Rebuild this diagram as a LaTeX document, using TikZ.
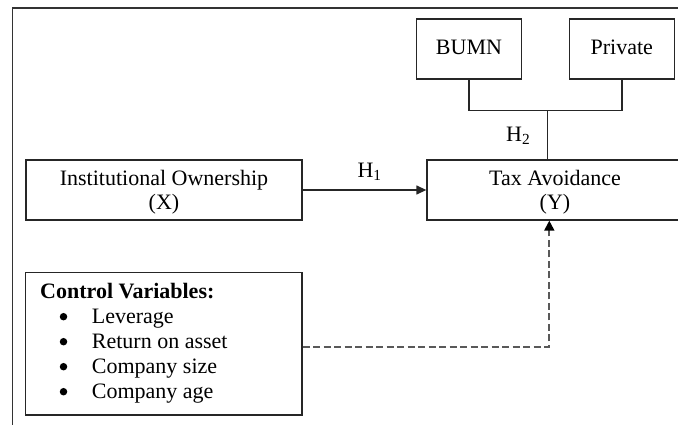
\documentclass[tikz,border=0pt]{standalone}
\usepackage{fontspec}
\setmainfont{Liberation Serif}
\usetikzlibrary{arrows.meta}
\begin{document}
\begin{tikzpicture}[x=1pt,y=-1pt,
  every node/.style={font=\fontsize{22}{22}\selectfont, inner sep=0pt},
  box/.style={draw=black!85, line width=1.3pt},
  txt/.style={anchor=base},
  bul/.style={circle, fill=black, minimum size=7.5pt},
  conn/.style={draw=black!85, line width=1.3pt},
  arr/.style={-{Triangle[length=10pt,width=9pt]}},
  dashconn/.style={draw=black!65, line width=1.8pt, dash pattern=on 7pt off 3.5pt}
]
\useasboundingbox (0,0) rectangle (678,424);
\clip (0,0) rectangle (678,424);
% outer frame
\draw[draw=black!80, line width=1.2pt] (12.7,430) -- (12.7,8) -- (690,8);
% boxes
\node[box, minimum width=276pt, minimum height=60pt] (inst) at (164,190) {};
\node[box, minimum width=256pt, minimum height=60pt] (tax) at (555,190) {};
\node[box, minimum width=105pt, minimum height=60pt] (bumn) at (469,49) {};
\node[box, minimum width=105pt, minimum height=60pt] (priv) at (622,49) {};
\node[box, minimum width=276.7pt, minimum height=142.7pt] (ctrl) at (163.7,343.7) {};
% box texts
\node[txt] (instA) at (164,185.7) {Institutional Ownership};
\node[txt] (instB) at (164,209) {(X)};
\node[txt] (taxA) at (555,185.7) {Tax Avoidance};
\node[txt] (taxB) at (555,209) {(Y)};
\node[txt] (bumnT) at (469,54.3) {BUMN};
\node[txt] (privT) at (621.8,54.3) {Private};
% control variable texts
\node[anchor=base west, font=\fontsize{22}{22}\selectfont\bfseries] (ctitle) at (40,298.3) {Control Variables:};
\foreach \t [count=\i] in {Leverage, Return on asset, Company size, Company age}{
  \node[bul] (b\i) at (63.5,{298.3+25*\i-6.6}) {};
  \node[anchor=base west] (c\i) at (91.7,{298.3+25*\i}) {\t};
}
% connectors
\coordinate (junc) at (547.7,110.7);
\draw[conn] (bumn.south) |- (junc) -| (priv.south);
\draw[conn] (junc) -- (junc |- tax.north);
\node[anchor=base west] (h2) at (506,141.7) {H\textsubscript{2}};
\draw[conn, arr] (inst.east) -- (tax.west);
\node[anchor=base west] (h1) at (357.3,177.3) {H\textsubscript{1}};
\draw[dashconn, -{Triangle[length=10pt,width=10pt,color=black]}] ([yshift=-3pt]ctrl.east) -| ([xshift=-5.7pt]tax.south);
\end{tikzpicture}
\end{document}
